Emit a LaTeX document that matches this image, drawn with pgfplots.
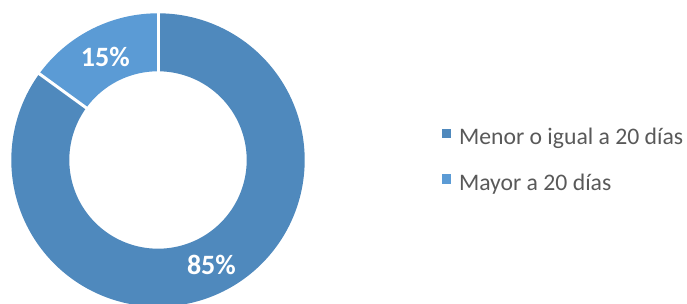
\documentclass[border=0pt]{standalone}
\usepackage{pgfplots}
\pgfplotsset{compat=1.18}
\usepackage{pgfplotstable}
\usepackage{fontspec}
\setmainfont{Carlito}
\definecolor{c1}{HTML}{4F89BD}
\definecolor{c2}{HTML}{5B9BD5}
\definecolor{txt}{HTML}{595959}
\pgfplotstableread{
label value
Menor 85
Mayor 15
}\datatable
\pgfplotstablegetelem{0}{value}\of\datatable \let\va\pgfplotsretval
\pgfplotstablegetelem{1}{value}\of\datatable \let\vb\pgfplotsretval
\pgfmathsetmacro\aStart{90}
\pgfmathsetmacro\aMid{90-\va*3.6}
\pgfmathsetmacro\aEnd{\aMid-\vb*3.6}
\pgfmathsetmacro\mA{(\aStart+\aMid)/2}
\pgfmathsetmacro\mB{(\aMid+\aEnd)/2}
\def\cx{158}
\def\cy{144}
\def\Rm{117.7}
\def\Ri{88.7}
\def\Ro{146.7}
\begin{document}
\begin{tikzpicture}
\begin{axis}[scale only axis, width=687pt, height=304pt,
  xmin=0, xmax=687, ymin=0, ymax=304, hide axis, clip=true,
  legend style={at={(axis cs:441.5,175.5)}, anchor=north west, draw=none, fill=none,
    inner sep=0pt, outer sep=0pt, row sep=24pt,
    font=\fontsize{23.7}{28}\selectfont\color{txt},
    nodes={inner sep=0pt, text height=16.5pt, text depth=5pt},
    /tikz/every odd column/.style={column sep=8pt}},
  legend cell align=left,
  legend image code/.code={\fill[#1] (0pt,1pt) rectangle (9.5pt,10.5pt);}]
\addplot[c1, line width=58pt, domain=\aMid:\aStart, samples=300, forget plot]
  ({\cx+\Rm*cos(x)},{\cy+\Rm*sin(x)});
\addplot[c2, line width=58pt, domain=\aEnd:\aMid, samples=100, forget plot]
  ({\cx+\Rm*cos(x)},{\cy+\Rm*sin(x)});
\addplot[white, line width=3pt, domain=\Ri-1:\Ro+1, samples=2, forget plot]
  ({\cx+x*cos(\aStart)},{\cy+x*sin(\aStart)});
\addplot[white, line width=3pt, domain=\Ri-1:\Ro+1, samples=2, forget plot]
  ({\cx+x*cos(\aMid)},{\cy+x*sin(\aMid)});
\addlegendimage{fill=c1, draw=none}
\addlegendentry{Menor o igual a 20 días}
\addlegendimage{fill=c2, draw=none}
\addlegendentry{Mayor a 20 días}
\node[white, font=\fontsize{28}{33}\selectfont\bfseries] at (axis cs:{\cx+\Rm*cos(\mA)},{\cy+\Rm*sin(\mA)}) {\va\%};
\node[white, font=\fontsize{28}{33}\selectfont\bfseries] at (axis cs:{\cx+116*cos(\mB)},{\cy+116*sin(\mB)}) {\vb\%};
\coordinate (sw) at (rel axis cs:0,0);
\coordinate (ne) at (rel axis cs:1,1);
\end{axis}
\pgfresetboundingbox
\path[use as bounding box] (sw) rectangle (ne);
\end{tikzpicture}
\end{document}
